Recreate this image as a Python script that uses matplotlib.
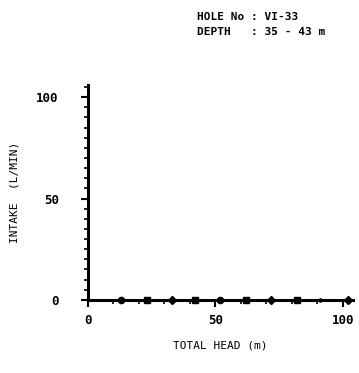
import matplotlib
matplotlib.use('Agg')
import matplotlib.pyplot as plt
from matplotlib.ticker import MultipleLocator

# Values
total_head = [13, 23, 33, 42, 52, 62, 72, 82, 91, 102]
intake = [0, 0, 0, 0, 0, 0, 0, 0, 0, 0]
x_ticks = [0, 50, 100]
y_ticks = [0, 50, 100]
hole_no = 'VI-33'
depth = '35 - 43 m'

plt.rcParams['font.family'] = 'DejaVu Sans Mono'
plt.rcParams['font.weight'] = 'bold'

fig = plt.figure(figsize=(3.59, 3.73), dpi=100)
ax = fig.add_axes([0.245, 0.196, 0.738, 0.576])

markers = ['o', 's', 'D', 's', 'o', 's', 'D', 's', '.', 'D']
ax.plot(total_head, intake, color='black', lw=1.2, clip_on=False, zorder=3)
for xv, yv, m in zip(total_head, intake, markers):
    ax.plot(xv, yv, marker=m, color='black', ms=4.5, clip_on=False, zorder=4)

ax.set_xlim(0, 104)
ax.set_ylim(0, 106)
ax.set_xticks(x_ticks)
ax.set_yticks(y_ticks)
ax.xaxis.set_minor_locator(MultipleLocator(10))
ax.yaxis.set_minor_locator(MultipleLocator(5))
ax.tick_params(axis='both', which='major', length=5, width=1.5, labelsize=9)
ax.tick_params(axis='x', which='major', pad=5)
ax.tick_params(axis='y', which='major', pad=16)
ax.tick_params(axis='both', which='minor', length=3, width=1.2)

for side in ['top', 'right']:
    ax.spines[side].set_visible(False)
for side in ['left', 'bottom']:
    ax.spines[side].set_linewidth(2.2)

ax.set_xlabel('TOTAL HEAD (m)', fontsize=8, labelpad=10)
ax.set_ylabel('INTAKE  (L/MIN)', fontsize=8, labelpad=12)

fig.text(0.548, 0.955, 'HOLE No : ' + hole_no, fontsize=8, ha='left', va='center')
fig.text(0.548, 0.915, 'DEPTH   : ' + depth, fontsize=8, ha='left', va='center')

fig.savefig('out.png', dpi=100)
